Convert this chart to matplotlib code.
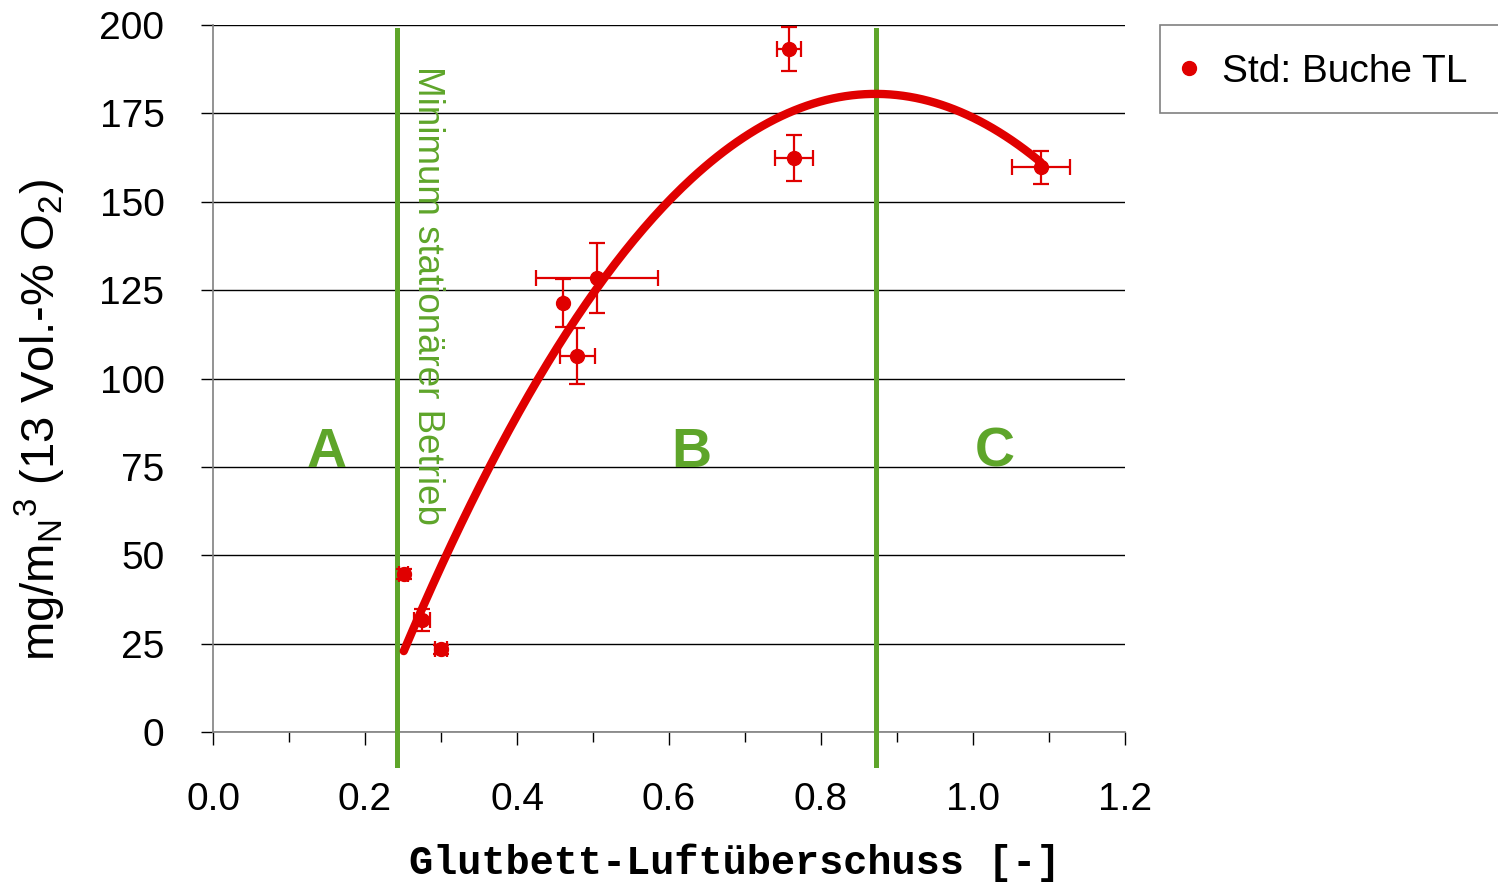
import numpy as np
import matplotlib
matplotlib.use("Agg")
import matplotlib.pyplot as plt
from matplotlib.patches import Rectangle
from matplotlib.ticker import MultipleLocator

plt.rcParams['font.family'] = ['Liberation Sans', 'DejaVu Sans']

# Messpunkte
lam = [0.251, 0.275, 0.300, 0.461, 0.479, 0.505, 0.758, 0.764, 1.089]
conc = [44.7, 31.7, 23.4, 121.4, 106.4, 128.4, 193.1, 162.3, 159.7]
lam_err = [0.006, 0.010, 0.008, 0.0, 0.023, 0.080, 0.016, 0.025, 0.038]
conc_err = [1.5, 3.0, 1.2, 6.8, 8.0, 10.0, 6.2, 6.5, 4.7]

# Bereichsgrenzen
grenzen = [0.242, 0.872]
bereiche = ['A', 'B', 'C']
bereich_x = [0.15, 0.63, 1.028]

red = '#E00000'
green = '#5EA52A'

fig = plt.figure(figsize=(14.98, 8.82), dpi=100)
ax = fig.add_axes([0.1422, 0.170, 0.6088, 0.8017])

ax.errorbar(lam, conc, xerr=lam_err, yerr=conc_err, fmt='o', color=red,
            markersize=10, elinewidth=1.6, capsize=5.5, capthick=1.6,
            zorder=4, label='Std: Buche TL')

# Trendlinie (Polynom 2. Grades)
coef = np.polyfit(lam, conc, 2)
xs = np.linspace(min(lam), max(lam), 200)
ax.plot(xs, np.polyval(coef, xs), color=red, linewidth=6,
        solid_capstyle='round', zorder=5)

for g in grenzen:
    ax.plot([g, g], [-9.3, 198.6], color=green, linewidth=3.6,
            clip_on=False, zorder=3)

for b, bx in zip(bereiche, bereich_x):
    ax.text(bx, 79, b, color=green, fontsize=40, fontweight='bold',
            ha='center', va='center')

ax.text(0.2816, 188.5, 'Minimum stationärer Betrieb', color=green,
        fontsize=26.5, rotation=-90, ha='center', va='top')

ax.set_xlim(0, 1.2)
ax.set_ylim(0, 200)
ax.set_xticks(np.arange(0, 1.21, 0.2))
ax.set_xticklabels([f'{v:.1f}' for v in np.arange(0, 1.21, 0.2)])
ax.xaxis.set_minor_locator(MultipleLocator(0.1))
ax.yaxis.set_major_locator(MultipleLocator(25))
ax.tick_params(axis='x', which='major', direction='out', length=9,
               width=1, labelsize=28, pad=27)
ax.tick_params(axis='x', which='minor', direction='out', length=7, width=1)
ax.tick_params(axis='y', direction='out', length=9, width=1,
               labelsize=28, pad=26)

ax.grid(True, axis='y', color='black', linewidth=1)
ax.set_axisbelow(True)
for s in ['top', 'right']:
    ax.spines[s].set_visible(False)
for s in ['left', 'bottom']:
    ax.spines[s].set_color('#808080')
    ax.spines[s].set_linewidth(1.2)

fig.text(40 / 1498, (882 - 420) / 882,
         r'mg/m$_\mathregular{N}$$^\mathregular{3}$ (13 Vol.-% O$_\mathregular{2}$)',
         fontsize=34, rotation=90, ha='center', va='center')
fig.text(735 / 1498, (882 - 863) / 882, 'Glutbett-Luftüberschuss [-]',
         fontsize=29, family=['Liberation Mono', 'DejaVu Sans Mono'],
         fontweight='bold', ha='center', va='center')

# Legende mit Rahmen
fig.patches.append(Rectangle((1160 / 1498, (882 - 113) / 882), 0.3,
                             88 / 882, transform=fig.transFigure,
                             facecolor='white', edgecolor='#808080',
                             linewidth=1.2))
leg = fig.legend([plt.Line2D([], [], marker='o', linestyle='none',
                             color=red, markersize=10)],
                 ['Std: Buche TL'], loc='center left',
                 bbox_to_anchor=(1154 / 1498, (882 - 72) / 882),
                 frameon=False, fontsize=28, handlelength=0.8,
                 handletextpad=0.45, borderpad=0)

fig.savefig('out.png', dpi=100)
